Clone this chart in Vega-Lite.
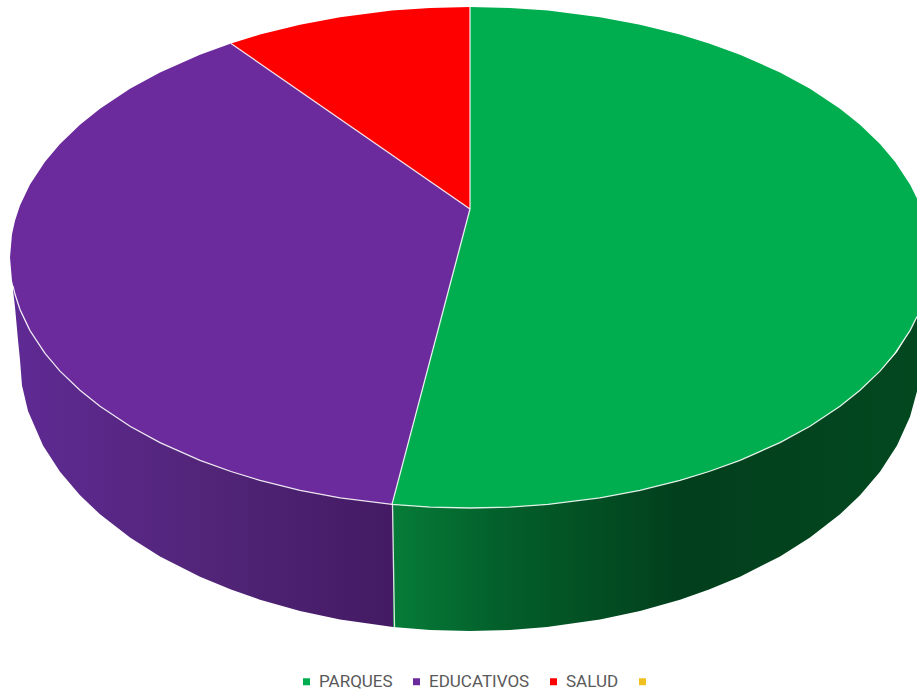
{
"$schema":"https://vega.github.io/schema/vega-lite/v6.json",
"width":917,"height":691,"padding":0,"autosize":"none","background":"white",
"config":{"view":{"stroke":null}},
"datasets":{
"sideEdu":[{"x":13,"y":286,"y2":290},{"x":15,"y":294.3,"y2":307},{"x":18,"y":304,"y2":340},{"x":20,"y":309.5,"y2":360},{"x":22,"y":314.4,"y2":385.5},{"x":28,"y":326.9,"y2":410.9},{"x":43,"y":350.7,"y2":445.5},{"x":60,"y":371.1,"y2":471.7},{"x":80,"y":390.3,"y2":495.2},{"x":100,"y":406.3,"y2":514.3},{"x":130,"y":426.2,"y2":537.5},{"x":160,"y":442.6,"y2":556.4},{"x":200,"y":460.3,"y2":576.8},{"x":231,"y":471.5,"y2":589.6},{"x":260,"y":480.4,"y2":599.7},{"x":300,"y":490.3,"y2":610.9},{"x":340,"y":497.8,"y2":619.4},{"x":393,"y":504.4,"y2":627}],
"sideParq":[{"x":393,"y":504.4,"y2":627},{"x":430,"y":507.1,"y2":629.9},{"x":470,"y":508,"y2":631},{"x":510,"y":507.1,"y2":629.9},{"x":547,"y":504.4,"y2":627},{"x":600,"y":497.8,"y2":619.4},{"x":640,"y":490.3,"y2":610.9},{"x":680,"y":480.4,"y2":599.7},{"x":709,"y":471.5,"y2":589.6},{"x":740,"y":460.3,"y2":576.8},{"x":780,"y":442.6,"y2":556.4},{"x":810,"y":426.2,"y2":537.5},{"x":840,"y":406.3,"y2":514.3},{"x":860,"y":390.3,"y2":495.2},{"x":880,"y":371.1,"y2":471.7},{"x":897,"y":352,"y2":445.5},{"x":910,"y":330.6,"y2":416.8},{"x":917,"y":316.6,"y2":391.2}],
"top":[
{"s":"EDUCATIVOS","x":10,"y":257.5,"y2":257.5},{"s":"EDUCATIVOS","x":12,"y":234.2,"y2":280.8},{"s":"EDUCATIVOS","x":15,"y":220.7,"y2":294.3},{"s":"EDUCATIVOS","x":20,"y":205.5,"y2":309.5},{"s":"EDUCATIVOS","x":30,"y":184.4,"y2":330.6},{"s":"EDUCATIVOS","x":45,"y":161.7,"y2":353.3},{"s":"EDUCATIVOS","x":60,"y":143.9,"y2":371.1},{"s":"EDUCATIVOS","x":80,"y":124.7,"y2":390.3},{"s":"EDUCATIVOS","x":100,"y":108.7,"y2":406.3},{"s":"EDUCATIVOS","x":130,"y":88.8,"y2":426.2},{"s":"EDUCATIVOS","x":160,"y":72.4,"y2":442.6},{"s":"EDUCATIVOS","x":200,"y":54.7,"y2":460.3},{"s":"EDUCATIVOS","x":231,"y":43.5,"y2":471.5},{"s":"EDUCATIVOS","x":260,"y":63.6,"y2":480.4},{"s":"EDUCATIVOS","x":300,"y":91.3,"y2":490.3},{"s":"EDUCATIVOS","x":340,"y":119,"y2":497.8},{"s":"EDUCATIVOS","x":392,"y":155,"y2":504.4},{"s":"EDUCATIVOS","x":430,"y":181.3,"y2":360.5},{"s":"EDUCATIVOS","x":470,"y":209,"y2":209},
{"s":"SALUD","x":231,"y":43.5,"y2":43.5},{"s":"SALUD","x":260,"y":34.6,"y2":63.6},{"s":"SALUD","x":300,"y":24.7,"y2":91.3},{"s":"SALUD","x":340,"y":17.2,"y2":119},{"s":"SALUD","x":392,"y":10.6,"y2":155},{"s":"SALUD","x":430,"y":7.9,"y2":181.3},{"s":"SALUD","x":470,"y":7,"y2":209},
{"s":"PARQUES","x":392,"y":504.4,"y2":504.4},{"s":"PARQUES","x":430,"y":360.5,"y2":507.1},{"s":"PARQUES","x":470,"y":209,"y2":508},{"s":"PARQUES","x":470.01,"y":7,"y2":508},{"s":"PARQUES","x":510,"y":7.9,"y2":507.1},{"s":"PARQUES","x":548,"y":10.6,"y2":504.4},{"s":"PARQUES","x":600,"y":17.2,"y2":497.8},{"s":"PARQUES","x":640,"y":24.7,"y2":490.3},{"s":"PARQUES","x":680,"y":34.6,"y2":480.4},{"s":"PARQUES","x":709,"y":43.5,"y2":471.5},{"s":"PARQUES","x":740,"y":54.7,"y2":460.3},{"s":"PARQUES","x":780,"y":72.4,"y2":442.6},{"s":"PARQUES","x":810,"y":88.8,"y2":426.2},{"s":"PARQUES","x":840,"y":108.7,"y2":406.3},{"s":"PARQUES","x":860,"y":124.7,"y2":390.3},{"s":"PARQUES","x":880,"y":143.9,"y2":371.1},{"s":"PARQUES","x":895,"y":161.7,"y2":353.3},{"s":"PARQUES","x":910,"y":184.4,"y2":330.6},{"s":"PARQUES","x":917,"y":198.4,"y2":316.6}],
"edges":[
{"e":"rim","x":13,"y":286},{"e":"rim","x":15,"y":294.3},{"e":"rim","x":20,"y":309.5},{"e":"rim","x":30,"y":330.6},{"e":"rim","x":45,"y":353.3},{"e":"rim","x":60,"y":371.1},{"e":"rim","x":80,"y":390.3},{"e":"rim","x":100,"y":406.3},{"e":"rim","x":130,"y":426.2},{"e":"rim","x":160,"y":442.6},{"e":"rim","x":200,"y":460.3},{"e":"rim","x":231,"y":471.5},{"e":"rim","x":260,"y":480.4},{"e":"rim","x":300,"y":490.3},{"e":"rim","x":340,"y":497.8},{"e":"rim","x":392,"y":504.4},{"e":"rim","x":430,"y":507.1},{"e":"rim","x":470,"y":508},{"e":"rim","x":510,"y":507.1},{"e":"rim","x":548,"y":504.4},{"e":"rim","x":600,"y":497.8},{"e":"rim","x":640,"y":490.3},{"e":"rim","x":680,"y":480.4},{"e":"rim","x":709,"y":471.5},{"e":"rim","x":740,"y":460.3},{"e":"rim","x":780,"y":442.6},{"e":"rim","x":810,"y":426.2},{"e":"rim","x":840,"y":406.3},{"e":"rim","x":860,"y":390.3},{"e":"rim","x":880,"y":371.1},{"e":"rim","x":895,"y":353.3},{"e":"rim","x":910,"y":330.6},{"e":"rim","x":917,"y":316.6},
{"e":"r1","x":231,"y":43.5},{"e":"r1","x":470,"y":209},
{"e":"r2","x":470,"y":7},{"e":"r2","x":470,"y":209},
{"e":"r3","x":392,"y":504.4},{"e":"r3","x":470,"y":209},
{"e":"v","x":392.5,"y":504.4},{"e":"v","x":394.5,"y":628}]
},
"encoding":{
"x":{"field":"x","type":"quantitative","axis":null,"scale":{"domain":[0,917],"nice":false,"zero":false}},
"y":{"field":"y","type":"quantitative","axis":null,"scale":{"domain":[0,691],"reverse":true,"nice":false,"zero":false}}
},
"layer":[
{"data":{"name":"sideEdu"},"mark":{"type":"area","fill":{"gradient":"linear","x1":0,"y1":0,"x2":1,"y2":0,"stops":[{"offset":0,"color":"#5f2a94"},{"offset":0.5,"color":"#522579"},{"offset":1,"color":"#431a63"}]}},"encoding":{"y2":{"field":"y2"}}},
{"data":{"name":"sideParq"},"mark":{"type":"area","fill":{"gradient":"linear","x1":0,"y1":0,"x2":1,"y2":0,"stops":[{"offset":0,"color":"#067c38"},{"offset":0.2,"color":"#03602b"},{"offset":0.55,"color":"#023f1c"},{"offset":1,"color":"#02481f"}]}},"encoding":{"y2":{"field":"y2"}}},
{"data":{"name":"top"},"mark":{"type":"area"},"encoding":{"y2":{"field":"y2"},
"color":{"field":"s","type":"nominal","title":null,
"scale":{"domain":["PARQUES","EDUCATIVOS","SALUD"," "],"range":["#00AE4F","#6C2B9C","#FF0000","#F0C020"]},
"legend":{"orient":"none","legendX":298,"legendY":673,"direction":"horizontal","symbolType":"square","symbolSize":49,"symbolStrokeWidth":0,"labelFont":"Roboto","labelFontSize":17,"labelColor":"#595959","labelOffset":4,"columnPadding":15,"values":["PARQUES","EDUCATIVOS","SALUD"," "]}}}},
{"data":{"name":"edges"},"mark":{"type":"line","stroke":"#ffffff","strokeWidth":1.3,"opacity":0.85},"encoding":{"detail":{"field":"e"}}}
]
}
